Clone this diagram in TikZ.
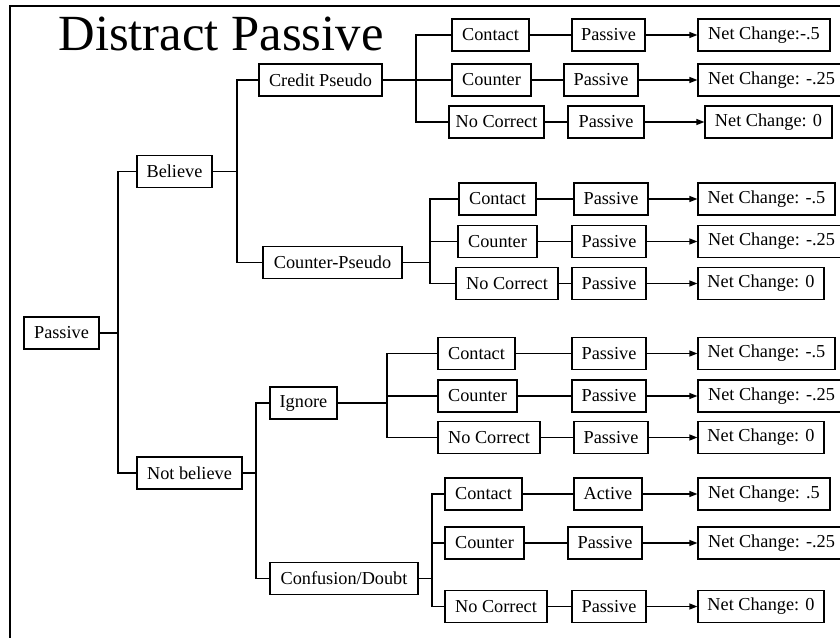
\documentclass[tikz,border=0pt]{standalone}
\usepackage{fontspec}
\setmainfont{Liberation Serif}
\usetikzlibrary{arrows.meta}
\begin{document}
\begin{tikzpicture}[x=0.75pt,y=-0.75pt,
  box/.style={draw=black, line width=0.9pt, minimum height=24pt, inner sep=0pt,
              font=\fontsize{13.7pt}{15pt}\selectfont},
  bw/.style={minimum width=#1*0.75pt},
  link/.style={line width=0.9pt},
  arr/.style={link, -{Triangle[length=6pt,width=4.5pt]}},
  frame/.style={line width=1.9pt}]
\useasboundingbox (0,0) rectangle (840,637);
\clip (0,0) rectangle (840,637);

% page frame (top and left edges)
\draw[frame] (10,660) -- (10,6) -- (860,6);

% title
\node[anchor=base, inner sep=0pt, font=\fontsize{38pt}{41pt}\selectfont] (title) at (221,50) {Distract Passive};

% first levels
\node[box, bw=75]  (root)    at (61.5,333)   {Passive};
\node[box, bw=75]  (believe) at (174.5,171.5){Believe};
\node[box, bw=105] (notbel)  at (189.5,473)  {Not believe};
\node[box, bw=123] (credit)  at (320.5,80)   {Credit Pseudo};
\node[box, bw=139] (cpseudo) at (332.5,262.5){Counter-Pseudo};
\node[box, bw=67]  (ignore)  at (303.5,403)  {Ignore};
\node[box, bw=148] (confus)  at (344,578.5)  {Confusion/Doubt};

% Credit Pseudo branch
\node[box, bw=77]  (a1) at (490.5,35)  {Contact};
\node[box, bw=73]  (p1) at (608.5,35)  {Passive};
\node[box, bw=132] (n1) at (764,35)    {Net Change:-.5};
\node[box, bw=79]  (a2) at (491.5,80)  {Counter};
\node[box, bw=74]  (p2) at (601,80)    {Passive};
\node[box, bw=147] (n2) at (771.5,80)  {Net Change: -.25};
\node[box, bw=95]  (a3) at (496.5,122) {No Correct};
\node[box, bw=76]  (p3) at (606,122)   {Passive};
\node[box, bw=127] (n3) at (768.5,122) {Net Change: 0};

% Counter-Pseudo branch
\node[box, bw=77]  (b1) at (497.5,199)   {Contact};
\node[box, bw=74]  (q1) at (611,199)     {Passive};
\node[box, bw=137] (m1) at (766.5,199)   {Net Change: -.5};
\node[box, bw=79]  (b2) at (497.5,241.5) {Counter};
\node[box, bw=74]  (q2) at (609,241.5)   {Passive};
\node[box, bw=147] (m2) at (771.5,241.5) {Net Change: -.25};
\node[box, bw=102] (b3) at (507,283.5)   {No Correct};
\node[box, bw=74]  (q3) at (609,283.5)   {Passive};
\node[box, bw=126] (m3) at (761,283.5)   {Net Change: 0};

% Ignore branch
\node[box, bw=77]  (c1) at (476.5,353.5) {Contact};
\node[box, bw=74]  (r1) at (609,353.5)   {Passive};
\node[box, bw=137] (o1) at (766.5,353.5) {Net Change: -.5};
\node[box, bw=79]  (c2) at (477.5,396)   {Counter};
\node[box, bw=74]  (r2) at (609,396)     {Passive};
\node[box, bw=147] (o2) at (771.5,396)   {Net Change: -.25};
\node[box, bw=102] (c3) at (489,437.5)   {No Correct};
\node[box, bw=74]  (r3) at (611,437.5)   {Passive};
\node[box, bw=126] (o3) at (761,437.5)   {Net Change: 0};

% Confusion/Doubt branch
\node[box, bw=77]  (d1) at (483.5,494)   {Contact};
\node[box, bw=68]  (s1) at (608,494)     {Active};
\node[box, bw=132] (t1) at (764,494)     {Net Change: .5};
\node[box, bw=79]  (d2) at (484.5,543)   {Counter};
\node[box, bw=74]  (s2) at (605,543)     {Passive};
\node[box, bw=147] (t2) at (771.5,543)   {Net Change: -.25};
\node[box, bw=102] (d3) at (496,606.5)   {No Correct};
\node[box, bw=74]  (s3) at (609,606.5)   {Passive};
\node[box, bw=126] (t3) at (761,606.5)   {Net Change: 0};

% junction points of the bracket connectors
\coordinate (j0) at (118,333);
\coordinate (jb) at (237,171.5);
\coordinate (jn) at (256,473);
\coordinate (jc) at (416,80);
\coordinate (j2) at (430,262.5);
\coordinate (j3) at (387,403);
\coordinate (j4) at (432,578.5);

% tree brackets
\draw[link] (root.east) -- (j0);
\draw[link] (believe.west) -| (j0) |- (notbel.west);

\draw[link] (believe.east) -- (jb);
\draw[link] (credit.west) -| (jb) |- (cpseudo.west);

\draw[link] (notbel.east) -- (jn);
\draw[link] (ignore.west) -| (jn) |- (confus.west);

\draw[link] (credit.east) -- (a2.west);
\draw[link] (a1.west) -| (jc) |- (a3.west);

\draw[link] (cpseudo.east) -- (j2);
\draw[link] (b1.west) -| (j2) |- (b3.west);
\draw[link] (b2.west) -- (b2.west -| j2);

\draw[link] (ignore.east) -- (j3);
\draw[link] (c1.west) -| (j3) |- (c3.west);
\draw[link] (c2.west) -- (c2.west -| j3);

\draw[link] (confus.east) -- (j4);
\draw[link] (d1.west) -| (j4) |- (d3.west);
\draw[link] (d2.west) -- (d2.west -| j4);

% rows: choice -- state -> outcome
\foreach \a/\p/\n in {a1/p1/n1, a2/p2/n2, a3/p3/n3,
                      b1/q1/m1, b2/q2/m2, b3/q3/m3,
                      c1/r1/o1, c2/r2/o2, c3/r3/o3,
                      d1/s1/t1, d2/s2/t2, d3/s3/t3} {
  \draw[link] (\a.east) -- (\p.west);
  \draw[arr] (\p.east) -- (\n.west);
}
\end{tikzpicture}
\end{document}
